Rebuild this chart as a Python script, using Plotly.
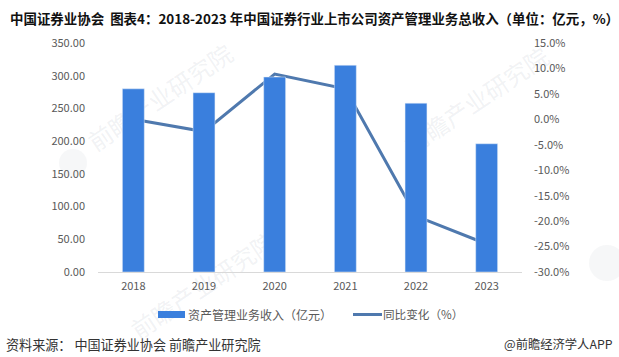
import plotly.graph_objects as go

years = ["2018", "2019", "2020", "2021", "2022", "2023"]
revenue = [280, 274, 298, 316, 258, 196]
yoy = [0.0, -2.4, 8.9, 6.0, -19.0, -24.5]
left_ticks = [0, 50, 100, 150, 200, 250, 300, 350]
right_ticks = [-30, -25, -20, -15, -10, -5, 0, 5, 10, 15]

title = "中国证券业协会  图表4：2018-2023 年中国证券行业上市公司资产管理业务总收入（单位：亿元，%）"
source = "资料来源： 中国证券业协会 前瞻产业研究院"
brand = "@前瞻经济学人APP"
legend_bar = "资产管理业务收入（亿元）"
legend_line = "同比变化（%）"
watermark = "前瞻产业研究院"

W, H = 619, 357
L, R, T, B = 98, 522, 43, 272
FONT = "Noto Sans CJK SC"
GREY = "#595959"
BLUE = "#3A7FDD"
LINE = "#4F79AE"
WM = "rgba(125,135,150,0.11)"
WM_LOGO = "rgba(125,135,150,0.07)"


def px(x):
    return (x - L) / (R - L)


def py(y):
    return (B - y) / (B - T)


wm_text = [(162, 100), (478, 103), (205, 288)]
wm_logo = [(73, 163, 14), (607, 263, 18)]

fig = go.Figure()
# The line sits on the primary axis so that the bars, on the overlaying axis, are drawn over it.
fig.add_trace(go.Scatter(x=years, y=yoy, mode="lines", line=dict(color=LINE, width=3),
                         yaxis="y", showlegend=False))
fig.add_trace(go.Bar(x=years, y=revenue, marker_color=BLUE, width=0.31, yaxis="y2", showlegend=False))

notes = []


def label(text, x, y, anchor, size, color, **font):
    notes.append(dict(text=text, x=px(x), y=py(y), xref="paper", yref="paper", showarrow=False,
                      xanchor=anchor, yanchor="middle",
                      font=dict(family=FONT, size=size, color=color, **font)))


label(title, 8, 18, "left", 13.45, "#111111", weight="bold")
label(legend_bar, 186, 314, "left", 12, GREY)
label(legend_line, 381, 314, "left", 11.6, GREY)
label(source, 4, 344, "left", 13.1, "#333333")
label(brand, 615, 344, "right", 12.3, "#333333")

shapes = [
    dict(type="rect", xref="paper", yref="paper", x0=px(158), x1=px(185), y0=py(311), y1=py(318),
         fillcolor=BLUE, line_width=0),
    dict(type="line", xref="paper", yref="paper", x0=px(353), x1=px(382), y0=py(314.5), y1=py(314.5),
         line=dict(color=LINE, width=3)),
]
for x, y in wm_text:
    shapes.append(dict(type="rect", xref="paper", yref="paper", layer="below",
                       x0=px(x - 20), x1=px(x + 20), y0=py(y + 20), y1=py(y - 20), line_width=0,
                       label=dict(text=watermark, textangle=-34, textposition="middle center",
                                  font=dict(family=FONT, size=24, color=WM))))
for x, y, r in wm_logo:
    shapes.append(dict(type="circle", xref="paper", yref="paper", layer="below",
                       x0=px(x - r), x1=px(x + r), y0=py(y + r), y1=py(y - r),
                       fillcolor=WM_LOGO, line_width=0))

fig.update_layout(
    width=W, height=H, autosize=False,
    margin=dict(l=L, r=W - R, t=T, b=H - B, pad=0),
    paper_bgcolor="white", plot_bgcolor="rgba(0,0,0,0)",
    font=dict(family=FONT, size=11, color=GREY), showlegend=False,
    annotations=notes, shapes=shapes,
    xaxis=dict(type="category", showgrid=False, showline=True, linecolor="#D9D9D9", linewidth=1,
               ticks="", ticklabelstandoff=4, tickfont=dict(size=11, color=GREY)),
    yaxis=dict(range=[-30, 15], tickvals=right_ticks, ticktext=[f"{v:.1f}%" for v in right_ticks],
               side="right", showgrid=False, zeroline=False, ticks="",
               ticklabelstandoff=11, tickfont=dict(size=11, color=GREY)),
    yaxis2=dict(range=[0, 350], tickvals=left_ticks, ticktext=[f"{v:.2f}" for v in left_ticks],
                overlaying="y", side="left", showgrid=False, zeroline=False, ticks="",
                ticklabelstandoff=12, tickfont=dict(size=11, color=GREY)),
)
fig.write_html("out.html", post_script="document.body.style.margin='0';",
               config=dict(displayModeBar=False))
